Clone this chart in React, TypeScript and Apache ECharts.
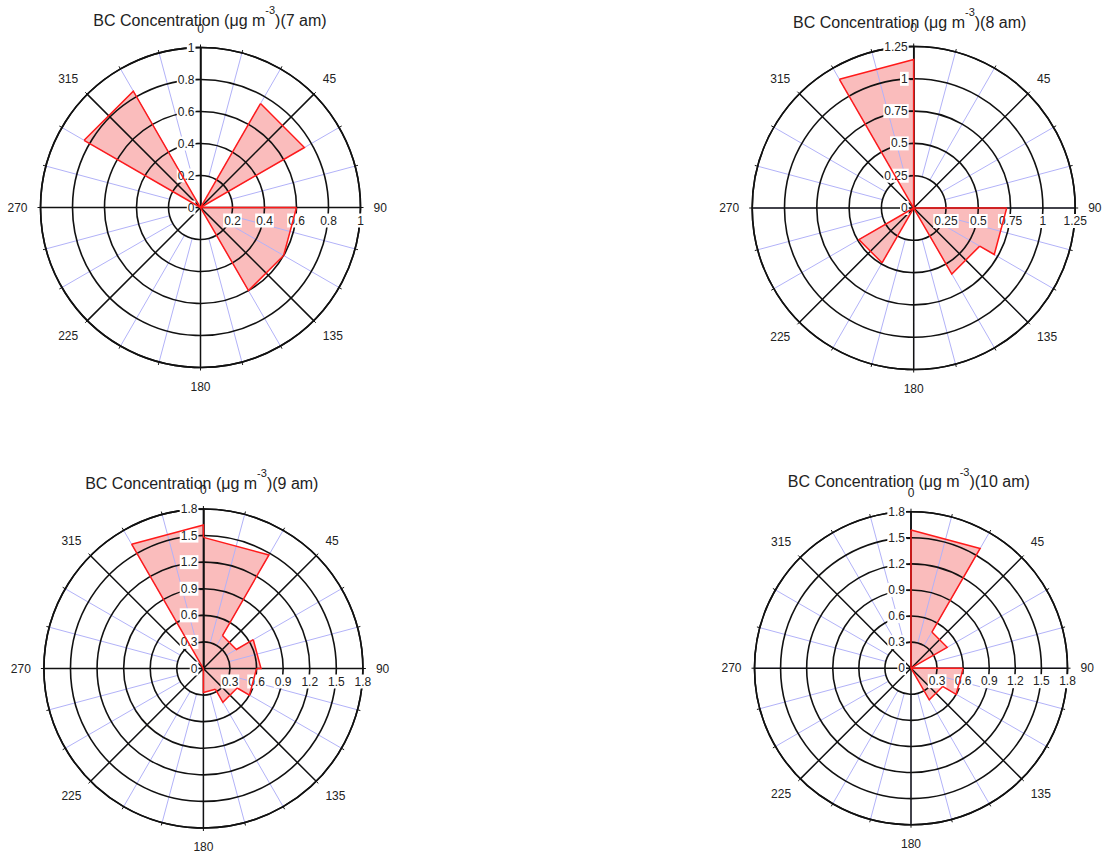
import React, { useEffect, useRef } from 'react';
import * as echarts from 'echarts';

// ---- Data ----
// Direction bins (degrees, start of each 30° sector, clockwise from north)
const BIN_STARTS = [0, 30, 60, 90, 120, 150, 180, 210, 240, 270, 300, 330];
const BIN_WIDTH = 30;
const ANGLE_LABELS = [0, 45, 90, 135, 180, 225, 270, 315];
const HOURS = ['7 am', '8 am', '9 am', '10 am'];

// BC concentration (µg m^-3) per direction bin
const BC_7AM = [0, 0.75, 0, 0.6, 0.6, 0, 0, 0, 0, 0, 0.84, 0];
const BC_8AM = [0, 0, 0, 0.72, 0.59, 0, 0, 0.49, 0, 0, 0, 1.15];
const BC_9AM = [1.48, 0.43, 0.65, 0.6, 0.44, 0.27, 0, 0, 0, 0, 0, 1.62];
const BC_10AM = [1.59, 0.48, 0, 0.6, 0.42, 0, 0, 0, 0, 0, 0, 0];

const RADIAL_MAX = [1, 1.25, 1.8, 1.8];
const RADIAL_STEP = [0.2, 0.25, 0.3, 0.3];

const SERIES = [BC_7AM, BC_8AM, BC_9AM, BC_10AM];

// ---- Layout (pixels) ----
const PANELS = [
  { cx: 200.5, cy: 207.5, r: 160, tx: 210, ty: 20 },
  { cx: 913.7, cy: 208, r: 161.5, tx: 909.7, ty: 22 },
  { cx: 203.4, cy: 668.5, r: 159.5, tx: 201.8, ty: 483.3 },
  { cx: 911, cy: 668.2, r: 156.5, tx: 908.8, ty: 481.7 },
];

const FONT = '"Liberation Sans", Arial, Helvetica, sans-serif';
const BLACK = '#111';
const TEXT = '#222';
const BLUE = '#b2b2f8';
const RED = '#ff1a1a';
const FILL = 'rgba(240,60,60,0.34)';

function fillRender(params: any, api: any) {
  const v = api.value(0);
  const a0 = api.value(1);
  const a1 = api.value(2);
  if (!v) return null;
  const c = api.coord([0, a0]);
  const p0 = api.coord([v, a0]);
  const p1 = api.coord([v, a1]);
  return {
    type: 'polygon',
    shape: { points: [c, p0, p1] },
    style: { fill: FILL, stroke: null },
    silent: true,
  };
}

function outlineRender(params: any, api: any) {
  const v = api.value(0);
  const a0 = api.value(1);
  const a1 = api.value(2);
  const vn = api.value(3);
  if (!v && !vn) return null;
  const pts = [api.coord([v, a0]), api.coord([v, a1]), api.coord([vn, a1])];
  return {
    type: 'polyline',
    shape: { points: pts },
    style: { stroke: RED, lineWidth: 1.5, fill: null },
    silent: true,
  };
}

function buildOption() {
  const polar: any[] = [];
  const angleAxis: any[] = [];
  const radiusAxis: any[] = [];
  const series: any[] = [];
  const title: any[] = [];

  PANELS.forEach((p, i) => {
    const max = RADIAL_MAX[i];
    const step = RADIAL_STEP[i];
    const ring1 = (p.r * step) / max;
    const base = i * 3;

    polar.push({ center: [p.cx, p.cy], radius: [0, p.r] });
    polar.push({ center: [p.cx, p.cy], radius: [ring1, p.r] });
    polar.push({ center: [p.cx, p.cy], radius: [0, p.r] });

    // main polar: black grid, angle labels, vertical radial labels
    angleAxis.push({
      polarIndex: base,
      type: 'value',
      min: 0,
      max: 360,
      interval: 45,
      startAngle: 90,
      clockwise: true,
      z: 3,
      axisLine: { show: true, lineStyle: { color: BLACK, width: 1.6 } },
      axisTick: { show: false },
      axisLabel: {
        show: true,
        margin: 13,
        fontSize: 12,
        color: TEXT,
        fontFamily: FONT,
        formatter: (v: number) => (ANGLE_LABELS.includes(v) ? String(v) : ''),
      },
      splitLine: { show: true, lineStyle: { color: BLACK, width: 1.5 } },
    });
    radiusAxis.push({
      polarIndex: base,
      type: 'value',
      min: 0,
      max,
      interval: step,
      z: 3,
      axisLine: { show: true, lineStyle: { color: BLACK, width: 1.5 } },
      axisTick: { show: true, length: 4, lineStyle: { color: BLACK, width: 1.2 } },
      axisLabel: {
        show: true,
        margin: 5,
        fontSize: 12,
        color: TEXT,
        fontFamily: FONT,
        backgroundColor: '#fff',
        padding: [1, 1],
      },
      splitLine: { show: true, lineStyle: { color: BLACK, width: 1.6 } },
    });

    // secondary polar: light blue 15° lines + outer ticks
    angleAxis.push({
      polarIndex: base + 1,
      type: 'value',
      min: 0,
      max: 360,
      interval: 15,
      startAngle: 90,
      clockwise: true,
      z: 1,
      axisLine: { show: false },
      axisTick: { show: true, length: 3, lineStyle: { color: BLACK, width: 1 } },
      axisLabel: { show: false },
      splitLine: { show: true, lineStyle: { color: BLUE, width: 1, type: 'solid' } },
    });
    radiusAxis.push({
      polarIndex: base + 1,
      type: 'value',
      min: 0,
      max,
      show: false,
    });

    // third polar: horizontal radial labels
    angleAxis.push({
      polarIndex: base + 2,
      type: 'value',
      min: 0,
      max: 360,
      startAngle: 0,
      show: false,
    });
    radiusAxis.push({
      polarIndex: base + 2,
      type: 'value',
      min: 0,
      max,
      interval: step,
      z: 4,
      axisLine: { show: false },
      axisTick: { show: false },
      splitLine: { show: false },
      axisLabel: {
        show: true,
        showMinLabel: false,
        margin: -6,
        align: 'center',
        verticalAlign: 'top',
        fontSize: 12,
        color: TEXT,
        fontFamily: FONT,
        backgroundColor: '#fff',
        padding: [1, 1],
      },
    });

    const vals = SERIES[i];
    const data = vals.map((v, k) => [
      v,
      BIN_STARTS[k],
      BIN_STARTS[k] + BIN_WIDTH,
      vals[(k + 1) % vals.length],
    ]);

    series.push({
      type: 'custom',
      coordinateSystem: 'polar',
      polarIndex: base,
      z: 0,
      silent: true,
      dimensions: ['v', 'a0', 'a1', 'vn'],
      encode: { radius: 0, angle: 1 },
      data,
      renderItem: fillRender,
    });
    series.push({
      type: 'custom',
      coordinateSystem: 'polar',
      polarIndex: base,
      z: 5,
      silent: true,
      dimensions: ['v', 'a0', 'a1', 'vn'],
      encode: { radius: 0, angle: 1 },
      data,
      renderItem: outlineRender,
    });

    title.push({
      text: `BC Concentration (μg m{sup|-3})(${HOURS[i]})`,
      left: p.tx,
      top: p.ty - 15.5,
      textAlign: 'center',
      padding: 0,
      textStyle: {
        fontSize: 16,
        fontWeight: 'normal',
        color: TEXT,
        fontFamily: FONT,
        rich: {
          sup: {
            fontSize: 11,
            color: TEXT,
            fontFamily: FONT,
            padding: [0, 0, 20, 0],
          },
        },
      },
    });
  });

  return {
    animation: false,
    backgroundColor: '#fff',
    title,
    polar,
    angleAxis,
    radiusAxis,
    series,
  };
}

export default function App() {
  const ref = useRef<HTMLDivElement>(null);
  useEffect(() => {
    if (!ref.current) return;
    const chart = echarts.init(ref.current, undefined, { renderer: 'svg' });
    chart.setOption(buildOption() as any);
    return () => chart.dispose();
  }, []);
  return (
    <div
      ref={ref}
      style={{ position: 'absolute', left: 0, top: 0, width: 1108, height: 856 }}
    />
  );
}
